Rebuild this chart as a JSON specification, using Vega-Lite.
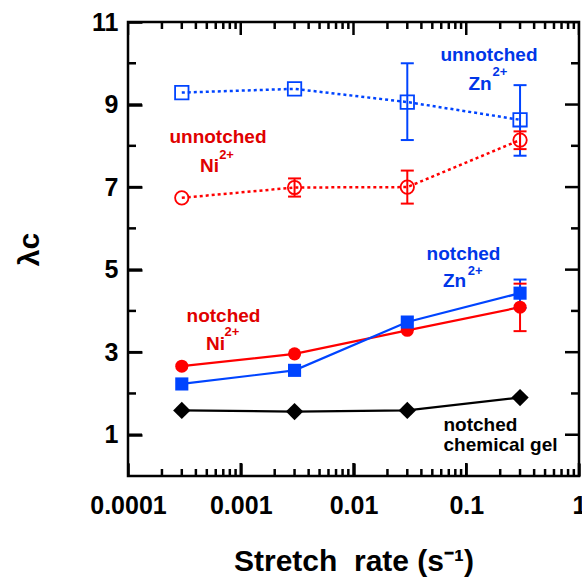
{
  "$schema": "https://vega.github.io/schema/vega-lite/v6.json",
  "width": 451,
  "height": 454,
  "autosize": "none",
  "padding": {"left": 128, "top": 22, "right": 3, "bottom": 101},
  "background": "white",
  "config": {
    "view": {"stroke": "black", "strokeWidth": 2.5},
    "axis": {
      "grid": false,
      "domain": false,
      "tickColor": "black",
      "tickWidth": 2.5,
      "labelFont": "Liberation Sans",
      "labelFontWeight": "bold",
      "labelFontSize": 25,
      "labelColor": "black",
      "titleFont": "Liberation Sans",
      "titleFontWeight": "bold",
      "titleColor": "black"
    },
    "text": {"font": "Liberation Sans", "fontWeight": "bold"}
  },
  "datasets": {
    "pts": [
      {"series": "unnotched Zn", "rate": 0.0003, "lam": 9.29, "lo": null, "hi": null},
      {"series": "unnotched Zn", "rate": 0.003, "lam": 9.38, "lo": null, "hi": null},
      {"series": "unnotched Zn", "rate": 0.03, "lam": 9.06, "lo": 8.14, "hi": 10.0},
      {"series": "unnotched Zn", "rate": 0.3, "lam": 8.63, "lo": 7.76, "hi": 9.47},
      {"series": "unnotched Ni", "rate": 0.0003, "lam": 6.74, "lo": null, "hi": null},
      {"series": "unnotched Ni", "rate": 0.003, "lam": 6.99, "lo": 6.77, "hi": 7.21},
      {"series": "unnotched Ni", "rate": 0.03, "lam": 7.0, "lo": 6.6, "hi": 7.4},
      {"series": "unnotched Ni", "rate": 0.3, "lam": 8.14, "lo": 7.92, "hi": 8.35},
      {"series": "notched Ni", "rate": 0.0003, "lam": 2.66, "lo": null, "hi": null},
      {"series": "notched Ni", "rate": 0.003, "lam": 2.96, "lo": null, "hi": null},
      {"series": "notched Ni", "rate": 0.03, "lam": 3.53, "lo": null, "hi": null},
      {"series": "notched Ni", "rate": 0.3, "lam": 4.09, "lo": 3.51, "hi": 4.66},
      {"series": "notched Zn", "rate": 0.0003, "lam": 2.23, "lo": null, "hi": null},
      {"series": "notched Zn", "rate": 0.003, "lam": 2.56, "lo": null, "hi": null},
      {"series": "notched Zn", "rate": 0.03, "lam": 3.73, "lo": null, "hi": null},
      {"series": "notched Zn", "rate": 0.3, "lam": 4.43, "lo": 4.07, "hi": 4.76},
      {"series": "notched gel", "rate": 0.0003, "lam": 1.59, "lo": null, "hi": null},
      {"series": "notched gel", "rate": 0.003, "lam": 1.56, "lo": null, "hi": null},
      {"series": "notched gel", "rate": 0.03, "lam": 1.59, "lo": null, "hi": null},
      {"series": "notched gel", "rate": 0.3, "lam": 1.9, "lo": null, "hi": null}
    ],
    "xticks": [
      {"v": 0.0001, "major": true}, {"v": 0.0002, "major": false}, {"v": 0.0003, "major": false}, {"v": 0.0004, "major": false}, {"v": 0.0005, "major": false}, {"v": 0.0006, "major": false}, {"v": 0.0007, "major": false}, {"v": 0.0008, "major": false}, {"v": 0.0009, "major": false},
      {"v": 0.001, "major": true}, {"v": 0.002, "major": false}, {"v": 0.003, "major": false}, {"v": 0.004, "major": false}, {"v": 0.005, "major": false}, {"v": 0.006, "major": false}, {"v": 0.007, "major": false}, {"v": 0.008, "major": false}, {"v": 0.009, "major": false},
      {"v": 0.01, "major": true}, {"v": 0.02, "major": false}, {"v": 0.03, "major": false}, {"v": 0.04, "major": false}, {"v": 0.05, "major": false}, {"v": 0.06, "major": false}, {"v": 0.07, "major": false}, {"v": 0.08, "major": false}, {"v": 0.09, "major": false},
      {"v": 0.1, "major": true}, {"v": 0.2, "major": false}, {"v": 0.3, "major": false}, {"v": 0.4, "major": false}, {"v": 0.5, "major": false}, {"v": 0.6, "major": false}, {"v": 0.7, "major": false}, {"v": 0.8, "major": false}, {"v": 0.9, "major": false},
      {"v": 1, "major": true}
    ],
    "yticks": [
      {"v": 1, "major": true}, {"v": 2, "major": false}, {"v": 3, "major": true}, {"v": 4, "major": false}, {"v": 5, "major": true}, {"v": 6, "major": false},
      {"v": 7, "major": true}, {"v": 8, "major": false}, {"v": 9, "major": true}, {"v": 10, "major": false}, {"v": 11, "major": true}
    ],
    "ann": [
      {"text": "unnotched", "grp": "blue", "kind": "main", "rate": 0.159, "lam": 10.21},
      {"text": "Zn", "grp": "blue", "kind": "main", "rate": 0.1325, "lam": 9.5},
      {"text": "2+", "grp": "blue", "kind": "sup", "rate": 0.199, "lam": 9.8},
      {"text": "unnotched", "grp": "red", "kind": "main", "rate": 0.000628, "lam": 8.21},
      {"text": "Ni", "grp": "red", "kind": "main", "rate": 0.000528, "lam": 7.51},
      {"text": "2+", "grp": "red", "kind": "sup", "rate": 0.000748, "lam": 7.77},
      {"text": "notched", "grp": "blue", "kind": "main", "rate": 0.0946, "lam": 5.39},
      {"text": "Zn", "grp": "blue", "kind": "main", "rate": 0.0787, "lam": 4.72},
      {"text": "2+", "grp": "blue", "kind": "sup", "rate": 0.1197, "lam": 4.97},
      {"text": "notched", "grp": "red", "kind": "main", "rate": 0.000703, "lam": 3.88},
      {"text": "Ni", "grp": "red", "kind": "main", "rate": 0.000597, "lam": 3.19},
      {"text": "2+", "grp": "red", "kind": "sup", "rate": 0.000835, "lam": 3.48},
      {"text": "notched", "grp": "black", "kind": "main", "rate": 0.1336, "lam": 1.24},
      {"text": "chemical gel", "grp": "black", "kind": "main", "rate": 0.2014, "lam": 0.75}
    ]
  },
  "resolve": {"axis": {"x": "independent", "y": "independent"}, "scale": {"color": "independent"}},
  "layer": [
    {
      "data": {"name": "pts"},
      "transform": [{"filter": "indexof(datum.series, 'unnotched') < 0"}],
      "mark": {"type": "line", "strokeWidth": 2.2},
      "encoding": {
        "x": {
          "field": "rate", "type": "quantitative",
          "scale": {"type": "log", "domain": [0.0001, 1], "nice": false},
          "axis": {
            "orient": "bottom",
            "values": [0.0001, 0.001, 0.01, 0.1, 1],
            "labelExpr": "toString(datum.value)",
            "tickSize": -13,
            "labelPadding": 30,
            "labelFlush": false,
            "labelOverlap": false,
            "title": "Stretch\u00a0 rate (s\u207b\u00b9)",
            "titleFontSize": 30,
            "titleY": 94,
            "titleBaseline": "alphabetic"
          }
        },
        "y": {
          "field": "lam", "type": "quantitative",
          "scale": {"domain": [0, 11], "nice": false, "zero": false},
          "axis": {
            "orient": "left",
            "values": [1, 3, 5, 7, 9, 11],
            "tickSize": -14,
            "labelPadding": 24,
            "title": "λc",
            "titleFontSize": 30,
            "titleX": -99,
            "titleY": 227,
            "titleAngle": -90,
            "titleAlign": "center",
            "titleBaseline": "middle"
          }
        },
        "color": {
          "field": "series", "type": "nominal", "legend": null,
          "scale": {"domain": ["unnotched Zn", "unnotched Ni", "notched Zn", "notched Ni", "notched gel"], "range": ["#0044ff", "#ff0000", "#0044ff", "#ff0000", "#000000"]}
        },
        "detail": {"field": "series"}
      }
    },
    {
      "data": {"name": "xticks"},
      "mark": {"type": "tick", "orient": "vertical", "thickness": 2.5, "color": "black", "opacity": 1, "clip": true},
      "encoding": {
        "x": {"field": "v", "type": "quantitative", "scale": {"type": "log", "domain": [0.0001, 1], "nice": false}, "axis": null},
        "y": {"datum": 0, "type": "quantitative", "scale": {"domain": [0, 11], "nice": false, "zero": false}, "axis": null},
        "size": {"condition": {"test": "datum.major", "value": 26}, "value": 14}
      }
    },
    {
      "data": {"name": "xticks"},
      "mark": {"type": "tick", "orient": "vertical", "thickness": 2.5, "color": "black", "opacity": 1, "clip": true},
      "encoding": {
        "x": {"field": "v", "type": "quantitative", "scale": {"type": "log", "domain": [0.0001, 1], "nice": false}, "axis": null},
        "y": {"datum": 11, "type": "quantitative", "scale": {"domain": [0, 11], "nice": false, "zero": false}, "axis": null},
        "size": {"condition": {"test": "datum.major", "value": 26}, "value": 14}
      }
    },
    {
      "data": {"name": "yticks"},
      "mark": {"type": "tick", "orient": "horizontal", "thickness": 2.5, "color": "black", "opacity": 1, "clip": true},
      "encoding": {
        "x": {"datum": 0.0001, "type": "quantitative", "scale": {"type": "log", "domain": [0.0001, 1], "nice": false}, "axis": null},
        "y": {"field": "v", "type": "quantitative", "scale": {"domain": [0, 11], "nice": false, "zero": false}, "axis": null},
        "size": {"condition": {"test": "datum.major", "value": 28}, "value": 16}
      }
    },
    {
      "data": {"name": "yticks"},
      "mark": {"type": "tick", "orient": "horizontal", "thickness": 2.5, "color": "black", "opacity": 1, "clip": true},
      "encoding": {
        "x": {"datum": 1, "type": "quantitative", "scale": {"type": "log", "domain": [0.0001, 1], "nice": false}, "axis": null},
        "y": {"field": "v", "type": "quantitative", "scale": {"domain": [0, 11], "nice": false, "zero": false}, "axis": null},
        "size": {"condition": {"test": "datum.major", "value": 28}, "value": 16}
      }
    },
    {
      "data": {"name": "pts"},
      "transform": [{"filter": "indexof(datum.series, 'unnotched') >= 0"}],
      "mark": {"type": "line", "strokeWidth": 2.5, "strokeDash": [3, 3]},
      "encoding": {
        "x": {"field": "rate", "type": "quantitative", "scale": {"type": "log", "domain": [0.0001, 1], "nice": false}, "axis": null},
        "y": {"field": "lam", "type": "quantitative", "scale": {"domain": [0, 11], "nice": false, "zero": false}, "axis": null},
        "color": {
          "field": "series", "type": "nominal", "legend": null,
          "scale": {"domain": ["unnotched Zn", "unnotched Ni", "notched Zn", "notched Ni", "notched gel"], "range": ["#0044ff", "#ff0000", "#0044ff", "#ff0000", "#000000"]}
        },
        "detail": {"field": "series"}
      }
    },
    {
      "data": {"name": "pts"},
      "transform": [{"filter": "datum.lo != null"}],
      "mark": {"type": "rule", "strokeWidth": 2},
      "encoding": {
        "x": {"field": "rate", "type": "quantitative", "scale": {"type": "log", "domain": [0.0001, 1], "nice": false}, "axis": null},
        "y": {"field": "lo", "type": "quantitative", "scale": {"domain": [0, 11], "nice": false, "zero": false}, "axis": null},
        "y2": {"field": "hi"},
        "color": {
          "field": "series", "type": "nominal", "legend": null,
          "scale": {"domain": ["unnotched Zn", "unnotched Ni", "notched Zn", "notched Ni", "notched gel"], "range": ["#0044ff", "#ff0000", "#0044ff", "#ff0000", "#000000"]}
        }
      }
    },
    {
      "data": {"name": "pts"},
      "transform": [{"filter": "datum.lo != null"}],
      "mark": {"type": "tick", "orient": "horizontal", "size": 13, "thickness": 2, "opacity": 1},
      "encoding": {
        "x": {"field": "rate", "type": "quantitative", "scale": {"type": "log", "domain": [0.0001, 1], "nice": false}, "axis": null},
        "y": {"field": "lo", "type": "quantitative", "scale": {"domain": [0, 11], "nice": false, "zero": false}, "axis": null},
        "color": {
          "field": "series", "type": "nominal", "legend": null,
          "scale": {"domain": ["unnotched Zn", "unnotched Ni", "notched Zn", "notched Ni", "notched gel"], "range": ["#0044ff", "#ff0000", "#0044ff", "#ff0000", "#000000"]}
        }
      }
    },
    {
      "data": {"name": "pts"},
      "transform": [{"filter": "datum.hi != null"}],
      "mark": {"type": "tick", "orient": "horizontal", "size": 13, "thickness": 2, "opacity": 1},
      "encoding": {
        "x": {"field": "rate", "type": "quantitative", "scale": {"type": "log", "domain": [0.0001, 1], "nice": false}, "axis": null},
        "y": {"field": "hi", "type": "quantitative", "scale": {"domain": [0, 11], "nice": false, "zero": false}, "axis": null},
        "color": {
          "field": "series", "type": "nominal", "legend": null,
          "scale": {"domain": ["unnotched Zn", "unnotched Ni", "notched Zn", "notched Ni", "notched gel"], "range": ["#0044ff", "#ff0000", "#0044ff", "#ff0000", "#000000"]}
        }
      }
    },
    {
      "data": {"name": "pts"},
      "transform": [{"filter": "indexof(datum.series, 'unnotched') >= 0"}],
      "mark": {"type": "point", "filled": false, "strokeWidth": 1.8, "size": 180, "opacity": 1},
      "encoding": {
        "x": {"field": "rate", "type": "quantitative", "scale": {"type": "log", "domain": [0.0001, 1], "nice": false}, "axis": null},
        "y": {"field": "lam", "type": "quantitative", "scale": {"domain": [0, 11], "nice": false, "zero": false}, "axis": null},
        "shape": {
          "field": "series", "type": "nominal", "legend": null,
          "scale": {"domain": ["unnotched Zn", "unnotched Ni", "notched Zn", "notched Ni"], "range": ["square", "circle", "square", "circle"]}
        },
        "color": {
          "field": "series", "type": "nominal", "legend": null,
          "scale": {"domain": ["unnotched Zn", "unnotched Ni", "notched Zn", "notched Ni", "notched gel"], "range": ["#0044ff", "#ff0000", "#0044ff", "#ff0000", "#000000"]}
        }
      }
    },
    {
      "data": {"name": "pts"},
      "transform": [{"filter": "indexof(datum.series, 'unnotched') < 0 && datum.series != 'notched gel'"}],
      "mark": {"type": "point", "filled": true, "opacity": 1, "size": 172},
      "encoding": {
        "x": {"field": "rate", "type": "quantitative", "scale": {"type": "log", "domain": [0.0001, 1], "nice": false}, "axis": null},
        "y": {"field": "lam", "type": "quantitative", "scale": {"domain": [0, 11], "nice": false, "zero": false}, "axis": null},
        "shape": {
          "field": "series", "type": "nominal", "legend": null,
          "scale": {"domain": ["unnotched Zn", "unnotched Ni", "notched Zn", "notched Ni"], "range": ["square", "circle", "square", "circle"]}
        },
        "color": {
          "field": "series", "type": "nominal", "legend": null,
          "scale": {"domain": ["unnotched Zn", "unnotched Ni", "notched Zn", "notched Ni", "notched gel"], "range": ["#0044ff", "#ff0000", "#0044ff", "#ff0000", "#000000"]}
        }
      }
    },
    {
      "data": {"name": "pts"},
      "transform": [{"filter": "datum.series == 'notched gel'"}],
      "mark": {"type": "point", "filled": true, "opacity": 1, "shape": "diamond", "size": 300, "color": "black"},
      "encoding": {
        "x": {"field": "rate", "type": "quantitative", "scale": {"type": "log", "domain": [0.0001, 1], "nice": false}, "axis": null},
        "y": {"field": "lam", "type": "quantitative", "scale": {"domain": [0, 11], "nice": false, "zero": false}, "axis": null}
      }
    },
    {
      "data": {"name": "ann"},
      "transform": [{"filter": "datum.kind == 'main'"}],
      "mark": {"type": "text", "fontSize": 19, "fontWeight": "bold", "font": "Liberation Sans", "align": "center", "baseline": "middle"},
      "encoding": {
        "x": {"field": "rate", "type": "quantitative", "scale": {"type": "log", "domain": [0.0001, 1], "nice": false}, "axis": null},
        "y": {"field": "lam", "type": "quantitative", "scale": {"domain": [0, 11], "nice": false, "zero": false}, "axis": null},
        "text": {"field": "text"},
        "color": {
          "field": "grp", "type": "nominal", "legend": null,
          "scale": {"domain": ["blue", "red", "black"], "range": ["#0036e8", "#e00000", "#000000"]}
        }
      }
    },
    {
      "data": {"name": "ann"},
      "transform": [{"filter": "datum.kind == 'sup'"}],
      "mark": {"type": "text", "fontSize": 13, "fontWeight": "bold", "font": "Liberation Sans", "align": "center", "baseline": "middle"},
      "encoding": {
        "x": {"field": "rate", "type": "quantitative", "scale": {"type": "log", "domain": [0.0001, 1], "nice": false}, "axis": null},
        "y": {"field": "lam", "type": "quantitative", "scale": {"domain": [0, 11], "nice": false, "zero": false}, "axis": null},
        "text": {"field": "text"},
        "color": {
          "field": "grp", "type": "nominal", "legend": null,
          "scale": {"domain": ["blue", "red", "black"], "range": ["#0036e8", "#e00000", "#000000"]}
        }
      }
    }
  ]
}
